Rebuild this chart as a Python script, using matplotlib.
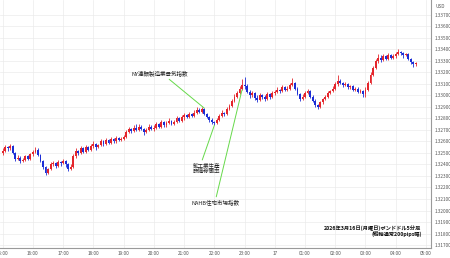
import matplotlib
matplotlib.use("Agg")
import matplotlib.pyplot as plt
import numpy as np

plt.rcParams['font.family'] = ['Noto Sans CJK JP', 'DejaVu Sans']

first_open = 1.3250
closes = [
    1.3252, 1.3255, 1.3254, 1.3256, 1.3250, 1.3245, 1.3246, 1.3243, 1.3244, 1.3247, 1.3245, 1.3249,
    1.3251, 1.3253, 1.3248, 1.3243, 1.3238, 1.3233, 1.3236, 1.3240, 1.3241, 1.3239, 1.3242, 1.3241,
    1.3243, 1.3240, 1.3236, 1.3238, 1.3247, 1.3252, 1.3250, 1.3254, 1.3251, 1.3255, 1.3253, 1.3256,
    1.3258, 1.3255, 1.3257, 1.3260, 1.3258, 1.3261, 1.3259, 1.3262, 1.3260, 1.3263, 1.3261, 1.3262,
    1.3264, 1.3268, 1.3271, 1.3269, 1.3272, 1.3270, 1.3273, 1.3271, 1.3268, 1.3270, 1.3273, 1.3271,
    1.3272, 1.3275, 1.3273, 1.3277, 1.3274, 1.3276, 1.3278, 1.3275, 1.3277, 1.3280, 1.3278, 1.3281,
    1.3283, 1.3281, 1.3284, 1.3282, 1.3285, 1.3287, 1.3286, 1.3288, 1.3284, 1.3281, 1.3279, 1.3277,
    1.3276, 1.3279, 1.3282, 1.3285, 1.3284, 1.3288, 1.3291, 1.3295, 1.3299, 1.3302, 1.3306, 1.3309,
    1.3308, 1.3303, 1.3300, 1.3302, 1.3298, 1.3296, 1.3300, 1.3299, 1.3297, 1.3301, 1.3299, 1.3302,
    1.3303, 1.3305, 1.3304, 1.3307, 1.3305, 1.3306, 1.3309, 1.3311, 1.3306, 1.3301, 1.3297, 1.3299,
    1.3302, 1.3304, 1.3299, 1.3295, 1.3292, 1.3290, 1.3294, 1.3297, 1.3299, 1.3302, 1.3304, 1.3306,
    1.3310, 1.3313, 1.3311, 1.3309, 1.3310, 1.3307, 1.3308, 1.3305, 1.3306, 1.3303, 1.3304, 1.3301,
    1.3305, 1.3311, 1.3318, 1.3324, 1.3330, 1.3333, 1.3331, 1.3334, 1.3332, 1.3335, 1.3333, 1.3334,
    1.3336, 1.3338, 1.3337, 1.3335, 1.3336, 1.3332, 1.3329, 1.3327, 1.3328,
]
highs = [
    1.3254, 1.3257, 1.3256, 1.3258, 1.3257, 1.3251, 1.3248, 1.3247, 1.3246, 1.3248, 1.3248, 1.3250,
    1.3253, 1.3255, 1.3254, 1.3249, 1.3244, 1.3239, 1.3237, 1.3242, 1.3243, 1.3242, 1.3244, 1.3243,
    1.3245, 1.3244, 1.3241, 1.3240, 1.3249, 1.3254, 1.3253, 1.3256, 1.3255, 1.3257, 1.3256, 1.3258,
    1.3260, 1.3259, 1.3258, 1.3262, 1.3261, 1.3263, 1.3262, 1.3264, 1.3263, 1.3265, 1.3264, 1.3264,
    1.3266, 1.3270, 1.3273, 1.3272, 1.3274, 1.3275, 1.3275, 1.3274, 1.3272, 1.3272, 1.3275, 1.3274,
    1.3274, 1.3277, 1.3276, 1.3279, 1.3278, 1.3278, 1.3280, 1.3279, 1.3279, 1.3282, 1.3281, 1.3283,
    1.3285, 1.3284, 1.3286, 1.3285, 1.3287, 1.3290, 1.3289, 1.3290, 1.3289, 1.3285, 1.3282, 1.3280,
    1.3278, 1.3280, 1.3284, 1.3287, 1.3286, 1.3290, 1.3293, 1.3297, 1.3301, 1.3304, 1.3308, 1.3314,
    1.3316, 1.3310, 1.3305, 1.3304, 1.3303, 1.3300, 1.3302, 1.3301, 1.3300, 1.3303, 1.3302, 1.3304,
    1.3305, 1.3307, 1.3306, 1.3309, 1.3308, 1.3308, 1.3311, 1.3315, 1.3312, 1.3307, 1.3302, 1.3301,
    1.3304, 1.3306, 1.3305, 1.3300, 1.3297, 1.3293, 1.3295, 1.3298, 1.3300, 1.3304, 1.3305, 1.3308,
    1.3312, 1.3318, 1.3314, 1.3312, 1.3312, 1.3311, 1.3309, 1.3309, 1.3307, 1.3307, 1.3306, 1.3305,
    1.3307, 1.3313, 1.3320, 1.3326, 1.3332, 1.3336, 1.3335, 1.3336, 1.3335, 1.3337, 1.3336, 1.3336,
    1.3338, 1.3340, 1.3339, 1.3338, 1.3337, 1.3337, 1.3333, 1.3330, 1.3329,
]
lows = [
    1.3248, 1.3251, 1.3252, 1.3253, 1.3249, 1.3243, 1.3244, 1.3241, 1.3242, 1.3243, 1.3244, 1.3244,
    1.3247, 1.3250, 1.3247, 1.3242, 1.3236, 1.3231, 1.3232, 1.3235, 1.3239, 1.3237, 1.3238, 1.3239,
    1.3240, 1.3238, 1.3234, 1.3235, 1.3237, 1.3246, 1.3248, 1.3249, 1.3250, 1.3250, 1.3252, 1.3252,
    1.3254, 1.3253, 1.3254, 1.3256, 1.3256, 1.3257, 1.3258, 1.3258, 1.3259, 1.3259, 1.3260, 1.3260,
    1.3261, 1.3263, 1.3267, 1.3267, 1.3268, 1.3269, 1.3269, 1.3270, 1.3266, 1.3267, 1.3269, 1.3270,
    1.3269, 1.3271, 1.3272, 1.3272, 1.3273, 1.3273, 1.3275, 1.3274, 1.3274, 1.3276, 1.3277, 1.3277,
    1.3279, 1.3280, 1.3280, 1.3281, 1.3281, 1.3284, 1.3285, 1.3285, 1.3283, 1.3280, 1.3277, 1.3275,
    1.3274, 1.3275, 1.3278, 1.3281, 1.3282, 1.3283, 1.3287, 1.3290, 1.3294, 1.3298, 1.3301, 1.3305,
    1.3306, 1.3302, 1.3298, 1.3299, 1.3296, 1.3294, 1.3295, 1.3297, 1.3295, 1.3296, 1.3297, 1.3298,
    1.3300, 1.3302, 1.3302, 1.3303, 1.3304, 1.3304, 1.3305, 1.3308, 1.3305, 1.3300, 1.3295, 1.3296,
    1.3298, 1.3301, 1.3298, 1.3294, 1.3290, 1.3288, 1.3289, 1.3293, 1.3296, 1.3298, 1.3301, 1.3303,
    1.3305, 1.3308, 1.3310, 1.3307, 1.3308, 1.3306, 1.3306, 1.3304, 1.3304, 1.3302, 1.3302, 1.3299,
    1.3299, 1.3304, 1.3310, 1.3317, 1.3323, 1.3328, 1.3329, 1.3330, 1.3331, 1.3331, 1.3332, 1.3332,
    1.3333, 1.3335, 1.3335, 1.3333, 1.3334, 1.3331, 1.3327, 1.3325, 1.3326,
]
opens = [first_open] + closes[:-1]

hour_labels = ["15:00", "16:00", "17:00", "18:00", "19:00", "20:00", "21:00", "22:00",
               "23:00", "17", "01:00", "02:00", "03:00", "04:00", "05:00"]
candles_per_hour = 12
price_ticks = [1.3170 + 0.001 * k for k in range(21)]

event_labels = ["NY連銀製造業景気指数", "鉱工業生産\n設備稼働率", "NAHB住宅市場指数"]
event_index = [80, 84, 95]
title_lines = ["2026年3月16日(月曜日)ポンドドル5分足", "(縦軸通常200pips幅)"]

UP = "#e4262c"
DOWN = "#1c2ed6"

fig = plt.figure(figsize=(4.5, 2.58), dpi=100)
ax = fig.add_axes([0.0, 10 / 258, 431 / 450, 248 / 258])

n = len(closes)
idx = np.arange(n)
for i in idx:
    o, c, h, l = opens[i], closes[i], highs[i], lows[i]
    h = max(h, o, c)
    l = min(l, o, c)
    col = UP if c >= o else DOWN
    ax.vlines(i, l, h, color=col, linewidth=0.6, zorder=3)
    body = max(abs(c - o), 0.00004)
    ax.bar(i, body, bottom=min(o, c), width=0.75, color=col, linewidth=0, zorder=4)

ax.set_xlim(-1.07, 170.0)
ax.set_ylim(1.31674, 1.33830)

xt = [k * candles_per_hour for k in range(len(hour_labels))]
ax.set_xticks(xt)
ax.set_xticklabels(hour_labels, fontsize=3.4, color="#555555")
ax.set_yticks(price_ticks)
ax.set_yticklabels([f"{p:.5f}" for p in price_ticks], fontsize=3.4, color="#555555")
ax.yaxis.tick_right()
ax.tick_params(axis="both", length=0, pad=2.5)
ax.grid(True, color="#ebebeb", linewidth=0.5, zorder=0)
ax.set_axisbelow(True)
for s in ["top", "left"]:
    ax.spines[s].set_visible(False)
for s in ["right", "bottom"]:
    ax.spines[s].set_color("#9a9a9a")
    ax.spines[s].set_linewidth(0.8)

fig.text(435 / 450, 1 - 7 / 258, "USD", fontsize=3.4, color="#555555", va="center", ha="left")

green = "#66d94a"
i0 = event_index[0]
ax.annotate(event_labels[0], xy=(i0, highs[i0]), xytext=(62.5, 1.33165),
            fontsize=4.0, color="#222222", ha="center", va="bottom",
            arrowprops=dict(arrowstyle="-", color=green, lw=0.7, shrinkA=0, shrinkB=0,
                            relpos=(0.6, 0.0)))
i1 = event_index[1]
ax.annotate(event_labels[1], xy=(i1, lows[i1]), xytext=(81.0, 1.32368),
            fontsize=4.0, color="#222222", ha="center", va="center", linespacing=1.0,
            arrowprops=dict(arrowstyle="-", color=green, lw=0.7, shrinkA=0, shrinkB=0,
                            relpos=(0.3, 1.0)))
i2 = event_index[2]
ax.annotate(event_labels[2], xy=(i2, lows[i2]), xytext=(84.5, 1.32095),
            fontsize=4.0, color="#222222", ha="center", va="top",
            arrowprops=dict(arrowstyle="-", color=green, lw=0.7, shrinkA=0, shrinkB=0,
                            relpos=(0.5, 1.0)))

ax.text(0.978, 0.045, title_lines[0] + "\n" + title_lines[1], transform=ax.transAxes,
        fontsize=3.8, color="#111111", ha="right", va="bottom", linespacing=1.0,
        fontweight="bold", zorder=6)

fig.savefig("out.png", dpi=100)
